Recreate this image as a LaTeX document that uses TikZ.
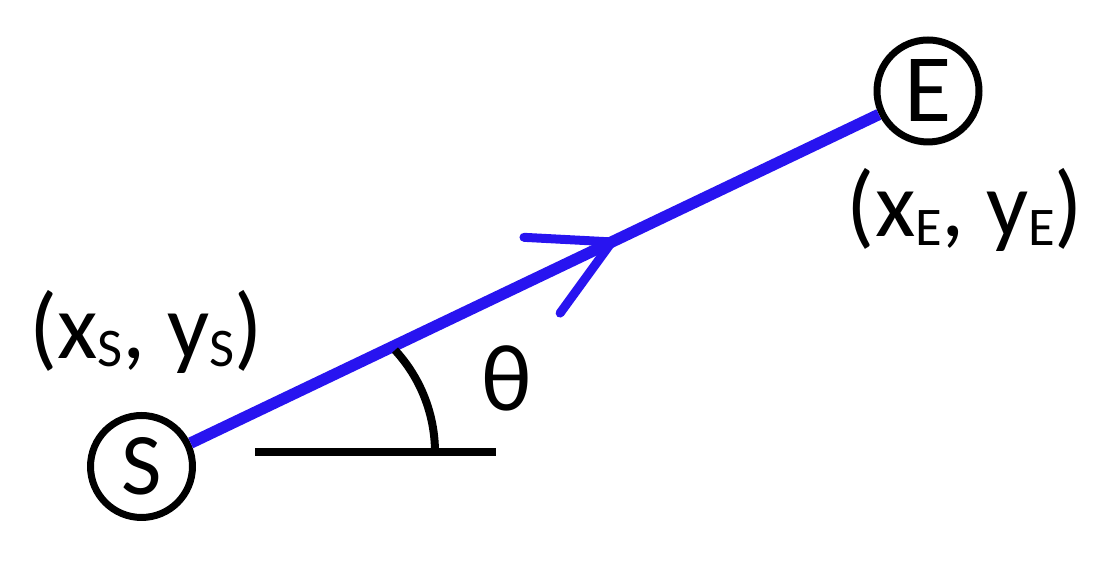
\documentclass[tikz,border=0pt]{standalone}
\usepackage{fontspec}
\setmainfont{Carlito}
\usepackage{xcolor}
\usepackage{tikz}
\usetikzlibrary{calc}
\definecolor{pathblue}{RGB}{40,20,240}
\newcommand{\lowsub}[1]{\raisebox{-0.17cm}{\fontsize{31}{31}\selectfont #1}}

\begin{document}
\begin{tikzpicture}[x=0.02cm, y=0.02cm]
    \tikzstyle{point} = [circle, draw, line width=0.14cm, minimum size=2.04cm, inner sep=0pt]
    \tikzstyle{coordtext} = [anchor=base, inner sep=0pt, font=\fontsize{53}{64}\selectfont]
    \tikzstyle{route} = [draw=pathblue, line width=0.23cm, line cap=butt]
    \tikzstyle{barb} = [draw=pathblue, line width=0.18cm, line cap=round, line join=round]
    \tikzstyle{anglemark} = [draw, line width=0.16cm, line cap=butt]

    \useasboundingbox (0,0) rectangle (1112,563);

    \node [point, font=\fontsize{50}{60}\selectfont] (ptS) at (141.5,96.5) {S};
    \node [point, font=\fontsize{55}{66}\selectfont] (ptE) at (928,472) {E};
    \node [coordtext] (lblS) at (146,204.7) {(x\lowsub{S}, y\lowsub{S})};
    \node [coordtext] (lblE) at (965,326) {(x\lowsub{E}, y\lowsub{E})};
    \node [coordtext, font=\fontsize{54}{64}\selectfont] (theta) at (507,152) {θ};

    % Connections
    \draw [route] (ptS) -- (ptE);
    \coordinate (tip) at ($(ptS)!0.598!(ptE)$);
    \draw [barb] ($(tip)+(177:1.76cm)$) -- (tip) -- ($(tip)+(234:1.76cm)$);

    % angle to the horizontal
    \coordinate (hzL) at (255,110.5);
    \coordinate (hzR) at (496,110.5);
    \coordinate (arcB) at (435,110.5);
    \draw [anglemark] (hzL) -- (hzR);
    \draw [anglemark] (arcB) arc[start angle=0, end angle=42.7, radius=3.02cm];
\end{tikzpicture}
\end{document}
